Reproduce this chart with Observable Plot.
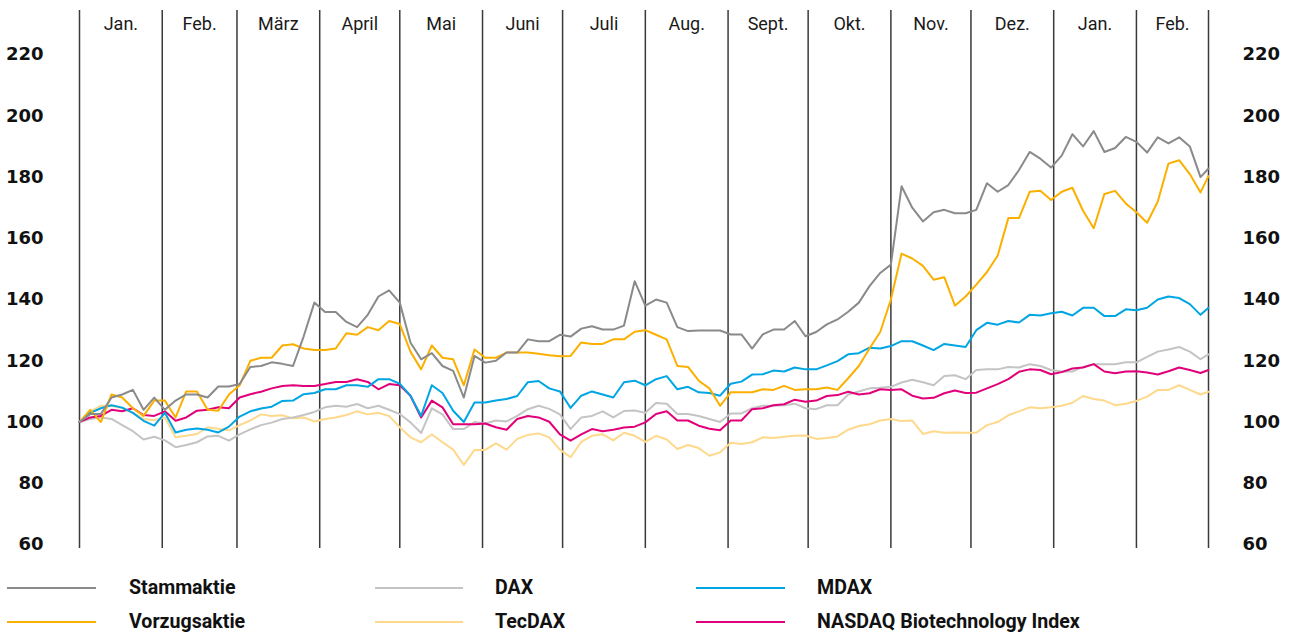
<!DOCTYPE html>
<html><head><meta charset="utf-8">
<script src="https://cdn.jsdelivr.net/npm/d3@7"></script>
<script src="https://cdn.jsdelivr.net/npm/@observablehq/plot@0.6"></script>
<style>
body{margin:0;background:#fff;}
#wrap{position:relative;width:1295px;height:636px;overflow:hidden;}
#legend{position:absolute;left:0;top:560px;width:1295px;height:76px;font-family:Roboto,sans-serif;font-weight:700;font-size:19.6px;color:#111;}
.li{position:absolute;height:1.5px;}
.lt{position:absolute;line-height:20px;white-space:nowrap;}
</style></head><body><div id="wrap"><div id="chart"></div><div id="legend"></div></div>
<script>
// Sampling grid: every 4 days from 1 Jan 2013, last point 28 Feb 2014
const startDate = "2013-01-01";
const endDate = "2014-02-28";
const stepDays = 4;

const seriesNames = ["Stammaktie", "Vorzugsaktie", "DAX", "TecDAX", "MDAX", "NASDAQ Biotechnology Index"];
const seriesColors = ["#8a8a8a", "#fbb000", "#c4c4c4", "#fed98c", "#00a5e3", "#e2007a"];

const stammaktie = [100,102.6,102.6,108,109,110.5,104,108,104,107,
109,109,108,111.6,111.6,112.4,118,118.3,119.5,119,
118.3,128,139,135.9,135.9,132.7,131,135,141,143,
139,126,120.5,122.5,118.3,116.7,108,121.6,119.4,120,
122.7,122.7,127,126.4,126.4,128.5,127.9,130.5,131.3,130.2,
130.2,131.5,146,138,140,139,131,129.7,129.9,129.9,
129.9,128.6,128.6,124,128.6,130.2,130.2,133,128,129.4,
131.9,133.5,136,139,144.4,148.7,151.4,177,170,165.5,
168.5,169.3,168.2,168.2,169.3,178,175.2,177.4,182.3,188.2,
186,183.1,187,194,190,195,188.2,189.5,193.1,191.5,
188,193,191,193,190,180,182.8];

const vorzugsaktie = [100,104,100,109,108,104.5,102,107,107,101.5,
110,110,104,103.7,109,112,120,121,121,125,
125.4,124,123.5,123.5,124,129,128.5,131,130,133,
132,123,117.2,125,121,120.5,112,123.7,121,121,
122.7,122.7,122.7,122.3,121.8,121.5,121.6,126,125.5,125.5,
127,127,129.5,130,128.5,127,118.3,118,113.5,111,
105.3,109.7,109.7,109.7,110.7,110.5,111.8,110.5,110.7,110.7,
111.3,110.5,114.3,118.3,124,129.4,140,155,153.4,151,
146.5,147.3,138,141,144.9,149,154.3,166.6,166.6,175.2,
175.5,172.5,175.2,176.5,169,163.3,174.5,175.5,171.4,168.5,
165.1,172,184.4,185.5,181,175,180.3];

const dax = [100,101,101.5,101,99,97,94.3,95.2,94,91.8,
92.5,93.4,95.3,95.5,93.9,96,97.6,99,99.8,101,
101.5,102.3,103.3,104.8,105.3,105,105.9,104.5,105.3,104,
102.6,99.9,96.4,104.5,102.5,97.7,97.7,100,99.5,100.5,
100.2,102,104.2,105.3,104.3,102.5,97.7,101.5,102,103.5,
101.5,103.6,103.8,103,106.2,106,102.6,102.6,102,101,
100,102.8,102.8,104.5,105.3,105.3,105.5,106,104.5,104.2,
105.5,105.5,109,110,111,111.2,111.5,112.9,113.8,113,
112,115,115.3,114,117,117.2,117.2,118,117.8,118.9,
118.3,117,116.5,116.5,118,118.9,118.9,118.9,119.5,119.5,
121.3,123,123.7,124.5,123,120.5,122.1];

const tecdax = [100,103.5,105.3,105.3,104.5,103,101,100.6,101.5,95,
95.5,96.1,98.3,97.8,97.3,99,100.5,102.5,102,102.2,
101.2,101.5,100.2,101,101.5,102.3,103.5,102.5,103,102,
98.3,95,93.4,96,93.4,91,86,90.9,90.9,93,
91,94.5,95.8,96.3,95,91,88.5,93.5,95.5,96,
94,96.5,95.5,93.5,95.5,94.3,91.2,92.5,91.5,89,
90.1,93.2,92.8,93.4,95,94.8,95.2,95.5,95.6,94.5,
94.8,95.3,97.5,98.7,99.3,100.5,101,100.3,100.5,96.1,
97,96.5,96.6,96.5,96.5,99,100,102.2,103.5,104.8,
104.5,104.8,105.3,106.3,108.5,107.5,107,105.5,106,106.9,
108.3,110.5,110.5,112,110.5,109,109.9];

const mdax = [100,103,104.5,105.5,104.7,103,100.4,98.8,103,96.6,
97.5,97.9,97.5,96.6,98.5,101.8,103.5,104.4,105,106.9,
107,109.1,109.5,110.7,110.7,112,112,111.5,114,114,
112.5,108.6,102,112,109.5,103.7,100,106.4,106.4,107,
107.5,108.5,113,113.4,111,110,104.6,108.6,110,109,
108,113,113.5,112,114,115,110.7,111.5,109.7,109.5,
108.6,112.5,113.2,115.5,115.6,116.8,116.5,117.8,117.2,117.2,
118.5,119.9,122.1,122.5,124.3,124,124.8,126.4,126.4,125,
123.5,125.5,125,124.5,130,132.4,131.8,133,132.5,135,
134.8,135.5,136,134.8,137.3,137.3,134.6,134.6,136.8,136.5,
137.3,140,141,140.5,138.5,135,137.3];

const nasdaq = [100,101.5,102,104,103.5,104.5,102.3,102,103.5,100.4,
101.5,103.7,104,104.8,104.5,108,109.1,109.9,111,111.8,
112,111.8,111.8,112.4,113.1,113.1,114,113.1,110.7,112.4,
112,108.6,101.5,107,104.8,99.3,99.3,99.3,99.5,98.3,
97.5,101,102,101.5,100.1,96,93.9,96,97.7,97,
97.5,98.2,98.5,99.9,102.6,103.5,100.5,100.5,98.8,97.8,
97.3,100.5,100.5,104.2,104.5,105.5,105.8,107.3,106.6,107,
108.5,108.8,109.9,109,109.4,110.7,110.5,110.7,108.6,107.7,
107.9,109.4,110.3,109.5,109.6,111,112.4,114,116.4,117.2,
117,115.6,116.3,117.5,117.8,118.9,116.5,115.9,116.5,116.6,
116.2,115.5,116.6,117.8,117,116,117];

const monthNames = ["Jan.","Feb.","März","April","Mai","Juni","Juli","Aug.","Sept.","Okt.","Nov.","Dez.","Jan.","Feb."];
const monthStarts = ["2013-01-01","2013-02-01","2013-03-01","2013-04-01","2013-05-01","2013-06-01","2013-07-01","2013-08-01","2013-09-01","2013-10-01","2013-11-01","2013-12-01","2014-01-01","2014-02-01","2014-02-28"];
const yTicks = [60,80,100,120,140,160,180,200,220];

// ---- build table ----
const parse = d3.utcParse("%Y-%m-%d");
const t0 = parse(startDate), t1 = parse(endDate);
const valuesBySeries = [stammaktie, vorzugsaktie, dax, tecdax, mdax, nasdaq];
const n = stammaktie.length;
const dates = d3.range(n).map(i => i === n - 1 ? t1 : d3.utcDay.offset(t0, i * stepDays));
const drawOrder = [3, 2, 5, 4, 1, 0];
const rows = [];
for (const s of drawOrder) {
  valuesBySeries[s].forEach((v, i) => rows.push({series: seriesNames[s], date: dates[i], value: v}));
}
const bounds = monthStarts.map(parse);
const months = monthNames.map((name, i) => ({name, mid: new Date((+bounds[i] + +bounds[i + 1]) / 2)}));

const chart = Plot.plot({
  width: 1295, height: 560,
  marginLeft: 79, marginRight: 87, marginTop: 10, marginBottom: 12,
  x: {type: "utc", domain: [t0, t1], axis: null},
  y: {domain: [58.7, 234.4], axis: null},
  color: {domain: seriesNames, range: seriesColors},
  style: {fontFamily: "Roboto, sans-serif", background: "#fff", overflow: "visible"},
  marks: [
    Plot.ruleX(bounds, {stroke: "#3a3a3a", strokeWidth: 1.5}),
    Plot.text(months, {x: "mid", text: "name", frameAnchor: "top", dy: 7, fontSize: 18, fill: "#1a1a1a"}),
    Plot.axisY({anchor: "left", ticks: yTicks, tickSize: 0, tickPadding: 36, fontSize: 18, fontWeight: "bold", fontFamily: "DejaVu Sans", color: "#111", label: null}),
    Plot.axisY({anchor: "right", ticks: yTicks, tickSize: 0, tickPadding: 34, fontSize: 18, fontWeight: "bold", fontFamily: "DejaVu Sans", color: "#111", label: null}),
    Plot.line(rows, {x: "date", y: "value", z: "series", stroke: "series", strokeWidth: 2})
  ]
});
document.getElementById("chart").appendChild(chart);

// ---- legend ----
const colLine = [{l: 7, w: 89}, {l: 375, w: 88}, {l: 696, w: 89}];
const colText = [129, 495, 817];
const rowY = [28, 62];
const legendOrder = [[0, 1], [2, 3], [4, 5]];
const lg = document.getElementById("legend");
legendOrder.forEach((pair, c) => {
  pair.forEach((s, r) => {
    const line = document.createElement("div");
    line.className = "li";
    line.style.left = colLine[c].l + "px";
    line.style.width = colLine[c].w + "px";
    line.style.top = (rowY[r] - 1) + "px";
    line.style.background = seriesColors[s];
    lg.appendChild(line);
    const t = document.createElement("div");
    t.className = "lt";
    t.style.left = colText[c] + "px";
    t.style.top = (rowY[r] - 10) + "px";
    t.textContent = seriesNames[s];
    lg.appendChild(t);
  });
});
</script>
</body></html>
